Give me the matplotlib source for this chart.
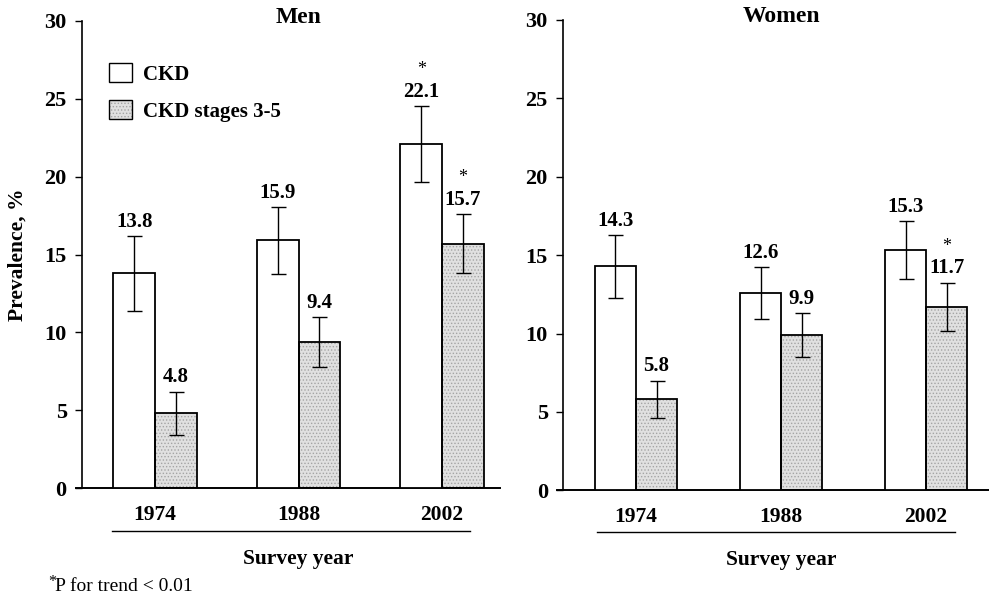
import matplotlib
matplotlib.use("Agg")
import matplotlib.pyplot as plt
import numpy as np
from matplotlib.patches import Patch
from matplotlib.legend_handler import HandlerTuple
from matplotlib.transforms import blended_transform_factory

plt.rcParams['font.family'] = ['Liberation Serif', 'DejaVu Serif']
plt.rcParams['font.weight'] = 'bold'
plt.rcParams['hatch.linewidth'] = 0.6

years = ["1974", "1988", "2002"]
series = ["CKD", "CKD stages 3-5"]

men_ckd = [13.8, 15.9, 22.1]
men_ckd_err = [2.4, 2.15, 2.45]
men_stage = [4.8, 9.4, 15.7]
men_stage_err = [1.4, 1.6, 1.9]
men_ckd_sig = [False, False, True]
men_stage_sig = [False, False, True]

women_ckd = [14.3, 12.6, 15.3]
women_ckd_err = [2.0, 1.65, 1.85]
women_stage = [5.8, 9.9, 11.7]
women_stage_err = [1.2, 1.4, 1.55]
women_ckd_sig = [False, False, False]
women_stage_sig = [False, False, True]

footnote = "P for trend < 0.01"

SHADE_FACE = "#e0e0e0"
SHADE_DOTS = "#a4a4a4"

fig = plt.figure(figsize=(9.89, 5.98), dpi=100)
ax_m = fig.add_axes([0.0829, 0.1839, 0.4227, 0.781])
ax_w = fig.add_axes([0.5693, 0.1800, 0.4307, 0.7866])


def shaded_bar(ax, x, h, w):
    ax.bar(x, h, w, align='edge', color=SHADE_FACE, edgecolor=SHADE_DOTS,
           hatch='.....', linewidth=0, zorder=2)
    ax.bar(x, h, w, align='edge', fill=False, edgecolor='black',
           linewidth=1.3, zorder=3)


def panel(ax, title, ckd, ckd_err, stage, stage_err, ckd_sig, stage_sig,
          width, xlim, line_span, line_y, legend=False):
    x = np.arange(len(years))
    ax.bar(x - width, ckd, width, align='edge', color='white',
           edgecolor='black', linewidth=1.3, zorder=3)
    shaded_bar(ax, x, stage, width)
    cx_ckd = x - width / 2
    cx_stage = x + width / 2
    ax.errorbar(cx_ckd, ckd, yerr=ckd_err, fmt='none', ecolor='black',
                elinewidth=1.0, capsize=5.4, capthick=1.0, zorder=4)
    ax.errorbar(cx_stage, stage, yerr=stage_err, fmt='none', ecolor='black',
                elinewidth=1.0, capsize=5.4, capthick=1.0, zorder=4)
    for cx, v, e, s in list(zip(cx_ckd, ckd, ckd_err, ckd_sig)) + \
            list(zip(cx_stage, stage, stage_err, stage_sig)):
        ax.annotate(f"{v:.1f}", (cx, v + e), xytext=(0, 3),
                    textcoords='offset points', ha='center', va='bottom',
                    fontsize=15, fontweight='bold')
        if s:
            ax.annotate("*", (cx, v + e), xytext=(0, 20),
                        textcoords='offset points', ha='center',
                        va='bottom', fontsize=13, fontweight='normal')

    ax.set_ylim(0, 30)
    ax.set_xlim(*xlim)
    ax.set_yticks([0, 5, 10, 15, 20, 25, 30])
    ax.set_xticks(x)
    ax.set_xticklabels(years)
    ax.tick_params(axis='y', direction='out', length=5, width=1.0,
                   labelsize=16, pad=6)
    ax.tick_params(axis='x', length=0, labelsize=15.5, pad=12)
    for lab in ax.get_yticklabels() + ax.get_xticklabels():
        lab.set_fontweight('bold')
    for sp in ('top', 'right'):
        ax.spines[sp].set_visible(False)
    ax.spines['left'].set_linewidth(1.2)
    ax.spines['bottom'].set_linewidth(1.4)
    ax.spines['bottom'].set_bounds(xlim[0] - 0.04, xlim[1])

    tr = blended_transform_factory(ax.transData, ax.transAxes)
    ax.text(1.0, 0.996, title, transform=tr, ha='center', va='baseline',
            fontsize=17, fontweight='bold')
    ax.plot(line_span, [line_y, line_y], color='black', linewidth=1.0,
            transform=tr, clip_on=False)
    ax.text(1.0, line_y - 0.060, "Survey year", transform=tr,
            ha='center', va='center', fontsize=15.5, fontweight='bold')

    if legend:
        shade_key = (Patch(facecolor=SHADE_FACE, edgecolor=SHADE_DOTS,
                           hatch='.....', linewidth=0),
                     Patch(fill=False, edgecolor='black', linewidth=1.0))
        handles = [Patch(facecolor='white', edgecolor='black', linewidth=1.0),
                   shade_key]
        leg = ax.legend(handles, series, loc='upper left',
                        bbox_to_anchor=(0.064, 0.91), frameon=False,
                        fontsize=15, handlelength=1.1, handleheight=1.05,
                        handletextpad=0.55, labelspacing=0.72,
                        borderaxespad=0, borderpad=0,
                        handler_map={tuple: HandlerTuple(ndivide=1)})
        for t in leg.get_texts():
            t.set_fontweight('bold')


panel(ax_m, "Men", men_ckd, men_ckd_err, men_stage, men_stage_err,
      men_ckd_sig, men_stage_sig, width=0.29, xlim=(-0.509, 2.404),
      line_span=[-0.30, 2.195], line_y=-0.092, legend=True)
panel(ax_w, "Women", women_ckd, women_ckd_err, women_stage, women_stage_err,
      women_ckd_sig, women_stage_sig, width=0.283, xlim=(-0.503, 2.434),
      line_span=[-0.269, 2.20], line_y=-0.088)

ax_m.set_ylabel("Prevalence, %", fontsize=15.5, fontweight='bold',
                labelpad=12)

# footnote with a raised, smaller asterisk
fig.text(0.0485, 0.027, "*", fontsize=11.5, fontweight='normal',
         ha='left', va='center')
fig.text(0.0555, 0.02, footnote, fontsize=14, fontweight='normal',
         ha='left', va='center')

fig.savefig("out.png", dpi=100)
